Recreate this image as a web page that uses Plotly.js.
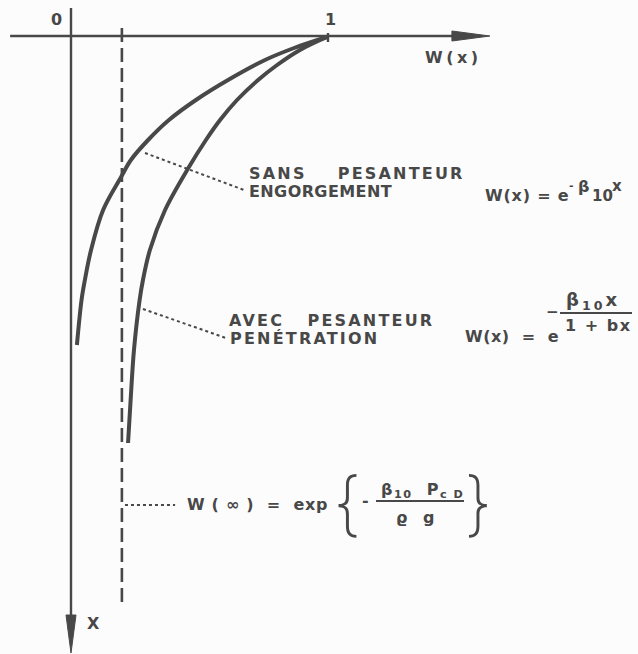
<!DOCTYPE html>
<html>
<head>
<meta charset="utf-8">
<script src="https://cdn.plot.ly/plotly-3.0.1.min.js"></script>
<style>
  html, body { margin: 0; padding: 0; background: #fcfcfc; }
  #chart { width: 638px; height: 654px; }
</style>
</head>
<body>
<div id="chart"></div>
<script>
// Penetration profiles W(x): saturation ratio versus depth x (depth grows downward)
// Without gravity (engorgement): W(x) = exp(-b10 x)
const depthSans = [0.01, 0.12, 0.24, 0.44, 0.64, 0.84, 1.04, 1.24, 1.41, 1.74, 2.14, 2.44, 2.64, 3.09];
const wSans     = [0.996, 0.868, 0.755, 0.611, 0.486, 0.381, 0.300, 0.233, 0.195, 0.125, 0.078, 0.054, 0.041, 0.023];

// With gravity (penetration): W(x) = exp(-b10 x / (1 + b x)), tends to W(inf)
const depthAvec = [0.01, 0.14, 0.29, 0.44, 0.64, 0.84, 1.04, 1.31, 1.74, 2.14, 2.44, 2.64, 3.14, 3.64, 4.07];
const wAvec     = [0.996, 0.891, 0.802, 0.728, 0.646, 0.580, 0.525, 0.459, 0.366, 0.307, 0.280, 0.267, 0.245, 0.232, 0.222];

// Asymptotic value W(inf) and the depth span of its dashed line
const wInfinity = 0.198;
const infinityDepthSpan = [-0.08, 5.71];

// Tick labels on the W axis
const wTickValues = [0, 1];
const wTickLabels = ['0', '1'];

// Callout leaders: [W start, W end], [depth start, depth end]
const leaderSansW = [0.288, 0.673], leaderSansD = [1.17, 1.54];
const leaderAvecW = [0.280, 0.603], leaderAvecD = [2.73, 3.02];
const leaderInfW  = [0.210, 0.405], leaderInfD  = [4.69, 4.69];

// Axis extents (arrow tips)
const wAxisSpan = [-0.237, 1.63];
const depthAxisSpan = [-0.28, 6.17];

const INK = '#484848';
const FONT = 'DejaVu Sans';
const PW = 638, PH = 654;
const PX_PER_W = 257, PX_PER_DEPTH = 100;

const annotations = [];
const spacing = [];   // letter spacing (px) for each annotation, applied after drawing

// label placed by its left edge / vertical middle, in page pixels
function label(text, px, py, size, ls, opts) {
  annotations.push(Object.assign({
    xref: 'paper', yref: 'paper', x: px / PW, y: 1 - py / PH,
    text: text, showarrow: false,
    font: { family: FONT, size: size, color: INK, weight: 'bold' },
    xanchor: 'left', yanchor: 'middle'
  }, opts || {}));
  spacing.push(ls || 0);
}

const traces = [
  { x: wSans, y: depthSans, mode: 'lines', line: { color: INK, width: 4, shape: 'spline', smoothing: 1 } },
  { x: wAvec, y: depthAvec, mode: 'lines', line: { color: INK, width: 4, shape: 'spline', smoothing: 1 } },
  { x: [wInfinity, wInfinity], y: infinityDepthSpan, mode: 'lines', line: { color: INK, width: 2.6, dash: '14px,6px' } },
  { x: [0, 0], y: [depthAxisSpan[0], depthAxisSpan[1] - 0.3], mode: 'lines', line: { color: INK, width: 2.4 } },
  { x: [wAxisSpan[0], wAxisSpan[1] - 0.1], y: [0, 0], mode: 'lines', line: { color: INK, width: 2.4 } },
  { x: leaderSansW, y: leaderSansD, mode: 'lines', line: { color: INK, width: 2, dash: 'dot' } },
  { x: leaderAvecW, y: leaderAvecD, mode: 'lines', line: { color: INK, width: 2, dash: 'dot' } },
  { x: leaderInfW, y: leaderInfD, mode: 'lines', line: { color: INK, width: 2, dash: 'dot' } }
];

// axis names
label('W(x)', 423, 57, 16, 3.5);
label('X', 85, 623, 16, 0);

// curve labels
label('SANS    PESANTEUR', 247, 174, 16, 2.2);
label('ENGORGEMENT', 247, 191, 16, 0.4);
label('AVEC   PESANTEUR', 227, 320, 16, 2.2);
label('PENÉTRATION', 228, 338, 16, 2.2);

// W(x) = e^(-b10 x)
label('W(x) = e', 483, 195, 16, 0.8);
label('-', 567, 185, 11, 0);
label('β', 576, 186, 16, 0);
label('10', 590, 196, 15, 0);
label('x', 610, 186, 15, 0);

// W(x) = e^(-b10 x / (1 + bx))
label('W(x)  =  e', 463, 336, 16, 0.5);
label('−', 544, 312, 15, 0);
label('β<sub>10</sub>x', 564, 301, 18, 3);
label('1 + bx', 563, 325, 16, 1.5);

// W(inf) = exp{ -(b10 Pcd)/(rho g) }
label('W ( ∞ )  =  exp', 185, 504, 16, 0.7);
label('{', 347, 502, 70, 0, { xanchor: 'center', font: { family: 'Inter', size: 70, color: INK, weight: 250 } });
label('-', 360, 500, 16, 0);
label('β<sub>10</sub>  P<sub>c D</sub>', 379, 490, 16, 1.5);
label('ϱ  g', 394, 517, 16, 1.5);
label('}', 478, 502, 70, 0, { xanchor: 'center', font: { family: 'Inter', size: 70, color: INK, weight: 250 } });

// W tick labels above the axis
for (let i = 0; i < wTickValues.length; i++) {
  annotations.push({ xref: 'x', yref: 'paper', x: wTickValues[i], y: 1 - 19 / PH,
    xshift: i === 0 ? -15 : 2,
    text: wTickLabels[i], showarrow: false, xanchor: 'center', yanchor: 'middle',
    font: { family: FONT, size: 16, color: INK, weight: 'bold' } });
  spacing.push(0);
}

// arrowheads: long narrow triangles at the ends of both axes
const headLenW = 38 / PX_PER_W, headHalfD = 5 / PX_PER_DEPTH;
const headLenD = 38 / PX_PER_DEPTH, headHalfW = 5 / PX_PER_W;
const hx = wAxisSpan[1], vy = depthAxisSpan[1];

const shapes = [
  { type: 'path', xref: 'x', yref: 'y', fillcolor: INK, line: { color: INK, width: 1 },
    path: `M ${hx - headLenW},${-headHalfD} L ${hx},0 L ${hx - headLenW},${headHalfD} Z` },
  { type: 'path', xref: 'x', yref: 'y', fillcolor: INK, line: { color: INK, width: 1 },
    path: `M ${-headHalfW},${vy - headLenD} L 0,${vy} L ${headHalfW},${vy - headLenD} Z` },
  // tick at W = 1
  { type: 'line', xref: 'x', yref: 'y', x0: 1, x1: 1, y0: -0.03, y1: 0.06, line: { color: INK, width: 2.4 } },
  // fraction bars
  { type: 'line', xref: 'paper', yref: 'paper', line: { color: INK, width: 1.8 },
    x0: 560 / PW, x1: 632 / PW, y0: 1 - 313 / PH, y1: 1 - 313 / PH },
  { type: 'line', xref: 'paper', yref: 'paper', line: { color: INK, width: 1.8 },
    x0: 376 / PW, x1: 464 / PW, y0: 1 - 501 / PH, y1: 1 - 501 / PH }
];

const layout = {
  width: PW, height: PH, autosize: false,
  margin: { l: 0, r: 0, t: 0, b: 0, pad: 0 },
  paper_bgcolor: '#fcfcfc', plot_bgcolor: '#fcfcfc',
  showlegend: false, hovermode: false,
  xaxis: { range: [-71 / PX_PER_W, (PW - 71) / PX_PER_W], visible: false, fixedrange: true },
  yaxis: { range: [(PH - 36) / PX_PER_DEPTH, -36 / PX_PER_DEPTH], visible: false, fixedrange: true },
  annotations: annotations,
  shapes: shapes
};

Plotly.newPlot('chart', traces, layout, { staticPlot: true, displayModeBar: false }).then(function (gd) {
  // hand-lettered look: widen the letter pitch, keeping each label's left edge in place
  gd.querySelectorAll('g.annotation').forEach(function (g) {
    const i = +g.getAttribute('data-index');
    const t = g.querySelector('text.annotation-text');
    if (!t || !spacing[i]) return;
    const left = t.getBBox().x;
    t.setAttribute('text-anchor', 'start');
    t.setAttribute('x', left);
    t.style.letterSpacing = spacing[i] + 'px';
  });
});
</script>
</body>
</html>
